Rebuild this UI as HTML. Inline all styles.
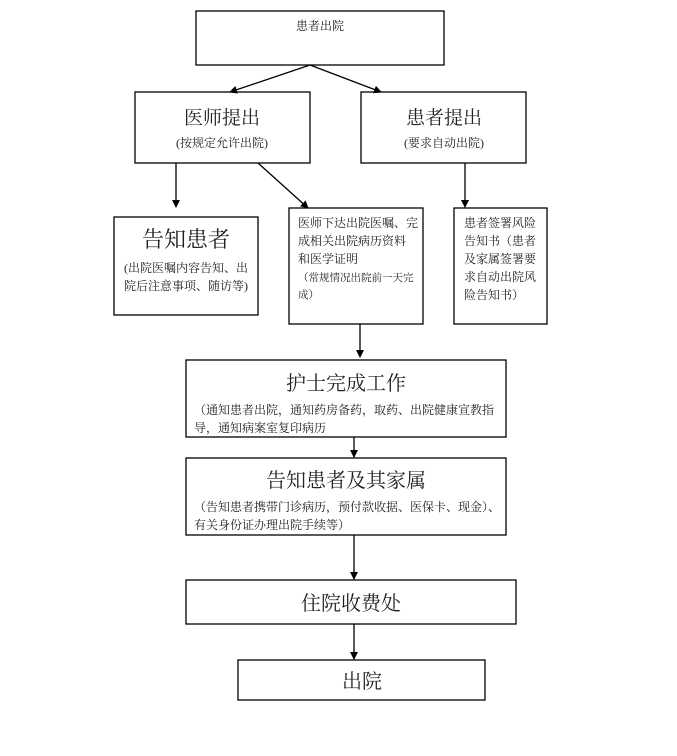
<!DOCTYPE html>
<html><head><meta charset="utf-8"><style>
body{margin:0;background:#fff;}
svg text{font-family:"Liberation Serif","Noto Serif CJK SC","Noto Sans CJK SC",serif;fill:#222;}
</style></head><body>
<svg width="677" height="751" viewBox="0 0 677 751" xmlns="http://www.w3.org/2000/svg">
<defs><marker id="a" markerWidth="8" markerHeight="8" refX="7" refY="4" orient="auto" markerUnits="userSpaceOnUse"><path d="M0,0 L8,4 L0,8 z" fill="#000"/></marker></defs>
<g fill="none" stroke="#000" stroke-width="1.3">
<rect x="196" y="11" width="248" height="54"/>
<rect x="135" y="92" width="175" height="71"/>
<rect x="361" y="92" width="165" height="71"/>
<rect x="114" y="217" width="144" height="98"/>
<rect x="289" y="208" width="134" height="116"/>
<rect x="454" y="208" width="93" height="116"/>
<rect x="186" y="360" width="320" height="77"/>
<rect x="186" y="458" width="320" height="77"/>
<rect x="186" y="580" width="330" height="44"/>
<rect x="238" y="660" width="247" height="40"/>
<line x1="310" y1="65" x2="230" y2="92" marker-end="url(#a)"/>
<line x1="310" y1="65" x2="381" y2="92" marker-end="url(#a)"/>
<line x1="176" y1="163" x2="176" y2="207" marker-end="url(#a)"/>
<line x1="258" y1="163" x2="308" y2="208" marker-end="url(#a)"/>
<line x1="465" y1="163" x2="465" y2="207" marker-end="url(#a)"/>
<line x1="360" y1="324" x2="360" y2="357" marker-end="url(#a)"/>
<line x1="354" y1="437" x2="354" y2="457" marker-end="url(#a)"/>
<line x1="354" y1="535" x2="354" y2="579" marker-end="url(#a)"/>
<line x1="354" y1="624" x2="354" y2="659" marker-end="url(#a)"/>
</g>
<text x="320" y="30" font-size="12" text-anchor="middle">患者出院</text>
<text x="222" y="124" font-size="19" text-anchor="middle">医师提出</text>
<text x="222" y="147" font-size="12" text-anchor="middle">(按规定允许出院)</text>
<text x="444" y="124" font-size="19" text-anchor="middle">患者提出</text>
<text x="444" y="147" font-size="12" text-anchor="middle">(要求自动出院)</text>
<text x="186" y="247" font-size="22" text-anchor="middle">告知患者</text>
<text x="186" y="272" font-size="12" text-anchor="middle">(出院医嘱内容告知、出</text>
<text x="186" y="290" font-size="12" text-anchor="middle">院后注意事项、随访等)</text>
<g font-size="12"><text x="298" y="227">医师下达出院医嘱、完</text>
<text x="298" y="245">成相关出院病历资料</text>
<text x="298" y="263">和医学证明</text>
<text x="298" y="281" font-size="10.5">（常规情况出院前一天完</text>
<text x="298" y="298" font-size="10.5">成）</text>
<text x="464" y="227">患者签署风险</text>
<text x="464" y="245">告知书（患者</text>
<text x="464" y="263">及家属签署要</text>
<text x="464" y="281">求自动出院风</text>
<text x="464" y="299">险告知书）</text></g>
<text x="346" y="390" font-size="20" text-anchor="middle">护士完成工作</text>
<text x="194" y="414" font-size="12">（通知患者出院，通知药房备药，取药、出院健康宣教指</text>
<text x="194" y="432" font-size="12">导，通知病案室复印病历</text>
<text x="346" y="487" font-size="20" text-anchor="middle">告知患者及其家属</text>
<text x="194" y="511" font-size="12">（告知患者携带门诊病历，预付款收据、医保卡、现金）、</text>
<text x="194" y="529" font-size="12">有关身份证办理出院手续等）</text>
<text x="351" y="610" font-size="20" text-anchor="middle">住院收费处</text>
<text x="362" y="688" font-size="20" text-anchor="middle">出院</text>
</svg>
</body></html>
